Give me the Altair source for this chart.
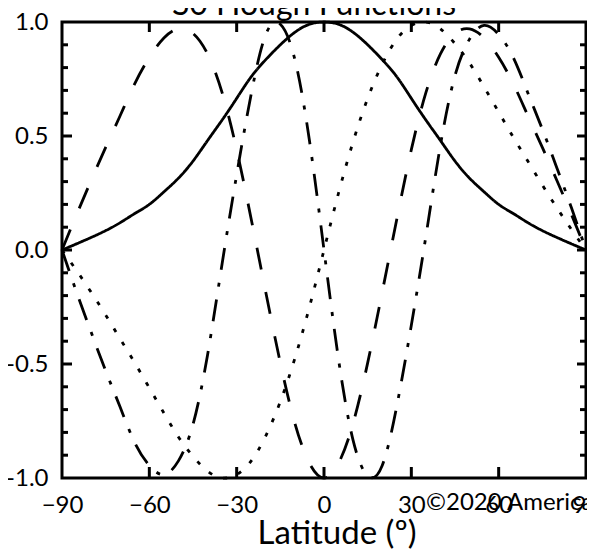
import altair as alt
import pandas as pd

# ---- data (latitude grid every 5 degrees) ----
lat = [-90, -85, -80, -75, -70, -65, -60, -55, -50, -45, -40, -35, -30, -25, -20, -15, -10, -5,
       0, 5, 10, 15, 20, 25, 30, 35, 40, 45, 50, 55, 60, 65, 70, 75, 80, 85, 90]

solid = [0.0, 0.027, 0.055, 0.085, 0.12, 0.16, 0.20, 0.255, 0.315, 0.39, 0.48, 0.57, 0.665, 0.76, 0.835, 0.90, 0.955, 0.99,
         1.0, 0.99, 0.955, 0.90, 0.835, 0.76, 0.665, 0.57, 0.48, 0.39, 0.315, 0.255, 0.20, 0.16, 0.12, 0.085, 0.055, 0.027, 0.0]

dotted = [0.0, -0.09, -0.185, -0.285, -0.39, -0.495, -0.605, -0.715, -0.82, -0.905, -0.97, -1.0, -0.985, -0.925, -0.815, -0.665, -0.475, -0.25,
          0.0, 0.25, 0.475, 0.665, 0.815, 0.925, 0.985, 1.0, 0.97, 0.905, 0.82, 0.715, 0.605, 0.495, 0.39, 0.285, 0.185, 0.09, 0.0]

dashed = [0.0, 0.155, 0.305, 0.45, 0.59, 0.73, 0.845, 0.93, 0.97, 0.95, 0.86, 0.69, 0.44, 0.135, -0.185, -0.495, -0.76, -0.935,
          -1.0, -0.935, -0.76, -0.495, -0.185, 0.135, 0.44, 0.69, 0.86, 0.95, 0.97, 0.93, 0.845, 0.73, 0.59, 0.45, 0.305, 0.155, 0.0]

dashdot = [0.0, -0.185, -0.36, -0.53, -0.69, -0.845, -0.945, -0.985, -0.925, -0.765, -0.46, -0.06, 0.33, 0.685, 0.945, 0.99, 0.835, 0.48,
           0.0, -0.48, -0.835, -0.99, -0.945, -0.685, -0.33, 0.06, 0.46, 0.765, 0.925, 0.985, 0.945, 0.845, 0.69, 0.53, 0.36, 0.185, 0.0]

modes = ["solid", "dotted", "dashed", "dashdot"]

x_label_values = [-90, -60, -30, 0, 30, 60, 90]
x_tick_values = [-60, -30, 0, 30, 60]
y_label_values = [-1.0, -0.5, 0.0, 0.5, 1.0]
y_major_ticks = [-0.5, 0.0, 0.5]
y_minor_ticks = [-0.9, -0.8, -0.7, -0.6, -0.4, -0.3, -0.2, -0.1, 0.1, 0.2, 0.3, 0.4, 0.6, 0.7, 0.8, 0.9]

title_text = "S0 Hough Functions"
x_title = "Latitude (º)"
credit_text = "©2020 American Meteorological Society"

# ---- build tables ----
rows = []
for name, series in zip(modes, [solid, dotted, dashed, dashdot]):
    for la, v in zip(lat, series):
        rows.append({"lat": la, "val": v, "mode": name})
df = pd.DataFrame(rows)

W, H = 524, 456
FONT = "Lato"

xscale = alt.Scale(domain=[-90, 90], nice=False, zero=False)
yscale = alt.Scale(domain=[-1, 1], nice=False, zero=False)

x_axis = alt.Axis(values=x_label_values, ticks=False, domain=False, grid=False,
                  labelExpr="datum.value < 0 ? '\u2212' + format(-datum.value, 'd') : format(datum.value, 'd')",
                  labelFont=FONT, labelFontSize=24, labelColor="black", labelPadding=15,
                  labelFlush=False, labelOverlap=False, title=None)
y_axis = alt.Axis(values=y_label_values, ticks=False, domain=False, grid=False,
                  labelExpr="datum.value < 0 ? '-' + format(-datum.value, '.1f') : format(datum.value, '.1f')",
                  labelFont=FONT, labelFontSize=24, labelColor="black", labelPadding=14,
                  labelFlush=False, labelOverlap=False, title=None)

lines = alt.Chart(df).mark_line(color="black", strokeWidth=2.8, interpolate="natural").encode(
    x=alt.X("lat:Q", scale=xscale, axis=x_axis),
    y=alt.Y("val:Q", scale=yscale, axis=y_axis),
    detail="mode:N",
    strokeDash=alt.StrokeDash("mode:N", legend=None,
                              scale=alt.Scale(domain=modes,
                                              range=[[1, 0], [4, 11.7], [22, 23], [22, 13, 4, 13]])),
)

xt = pd.DataFrame({"lat": x_tick_values})
ymaj = pd.DataFrame({"val": y_major_ticks})
ymin = pd.DataFrame({"val": y_minor_ticks})

tick_style = dict(color="black", strokeWidth=3)

top_ticks = alt.Chart(xt).mark_rule(**tick_style).encode(
    x=alt.X("lat:Q", scale=xscale, axis=x_axis), y=alt.value(0), y2=alt.value(10))
bottom_ticks = alt.Chart(xt).mark_rule(**tick_style).encode(
    x=alt.X("lat:Q", scale=xscale, axis=x_axis), y=alt.value(H), y2=alt.value(H - 11))
left_major = alt.Chart(ymaj).mark_rule(**tick_style).encode(
    y=alt.Y("val:Q", scale=yscale, axis=y_axis), x=alt.value(0), x2=alt.value(10))
left_minor = alt.Chart(ymin).mark_rule(**tick_style).encode(
    y=alt.Y("val:Q", scale=yscale, axis=y_axis), x=alt.value(0), x2=alt.value(6))
right_major = alt.Chart(ymaj).mark_rule(**tick_style).encode(
    y=alt.Y("val:Q", scale=yscale, axis=y_axis), x=alt.value(W), x2=alt.value(W - 9))
right_minor = alt.Chart(ymin).mark_rule(**tick_style).encode(
    y=alt.Y("val:Q", scale=yscale, axis=y_axis), x=alt.value(W), x2=alt.value(W - 6))

title = alt.Chart(pd.DataFrame({"t": [title_text]})).mark_text(
    font=FONT, fontSize=32, color="black", align="center", baseline="alphabetic"
).encode(text="t:N", x=alt.value(252), y=alt.value(-7))

xtitle = alt.Chart(pd.DataFrame({"t": [x_title]})).mark_text(
    font=FONT, fontSize=33, color="black", align="center", baseline="alphabetic"
).encode(text="t:N", x=alt.value(275), y=alt.value(H + 66))

credit = alt.Chart(pd.DataFrame({"t": [credit_text]})).mark_text(
    font=FONT, fontSize=24, color="black", align="left", baseline="alphabetic"
).encode(text="t:N", x=alt.value(364), y=alt.value(H + 32))

chart = alt.layer(
    lines, top_ticks, bottom_ticks, left_major, left_minor, right_major, right_minor,
    title, xtitle, credit
).properties(
    width=W, height=H,
    autosize=alt.AutoSizeParams(type="none"),
    padding={"left": 54, "top": 14, "right": 1, "bottom": 75},
).configure_view(stroke="black", strokeWidth=3)

chart.save("out.html", embed_options={"renderer": "svg", "actions": False})
